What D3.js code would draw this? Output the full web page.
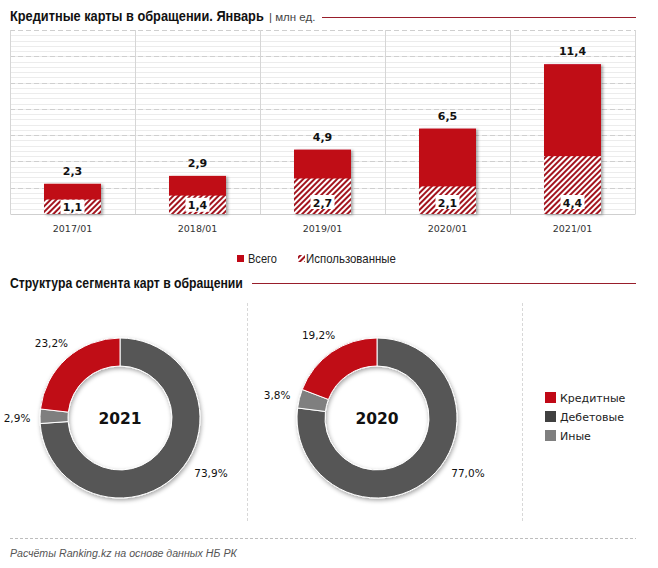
<!DOCTYPE html>
<html><head><meta charset="utf-8">
<script src="https://cdn.jsdelivr.net/npm/d3@7/dist/d3.min.js"></script>
<style>body{margin:0;background:#fff}svg{display:block}</style>
</head><body>
<script>
// ---------- DATA ----------
const categories = ["2017/01","2018/01","2019/01","2020/01","2021/01"];
const totalCards = [2.3, 2.9, 4.9, 6.5, 11.4];
const usedCards  = [1.1, 1.4, 2.7, 2.1, 4.4];
const barLegend = ["Всего","Использованные"];
const yTicksMajor = [0,2,4,6,8,10,12,14];

const segments = ["Кредитные","Дебетовые","Иные"];
const share2021 = [23.2, 73.9, 2.9];
const share2020 = [19.2, 77.0, 3.8];
const donutYears = ["2021","2020"];
const pieOrder = ["Дебетовые","Иные","Кредитные"];

const fmt = v => d3.format(".1f")(v).replace(".", ",");

// ---------- SVG ----------
const W = 658, H = 568;
const svg = d3.select("body").append("svg").attr("width", W).attr("height", H);
const defs = svg.append("defs");
const pat = defs.append("pattern").attr("id","hatch").attr("patternUnits","userSpaceOnUse")
  .attr("width",4).attr("height",4).attr("patternTransform","rotate(45)");
pat.append("rect").attr("width",4).attr("height",4).attr("fill","#fff");
pat.append("rect").attr("width",2).attr("height",4).attr("fill","#a3141e");
const sh = defs.append("filter").attr("id","shadow").attr("x","-20%").attr("y","-20%").attr("width","150%").attr("height","150%");
sh.append("feDropShadow").attr("dx",2).attr("dy",1).attr("stdDeviation",1.5).attr("flood-color","#000").attr("flood-opacity",0.35);
const sh2 = defs.append("filter").attr("id","shadow2").attr("x","-20%").attr("y","-20%").attr("width","140%").attr("height","140%");
sh2.append("feDropShadow").attr("dx",1).attr("dy",2).attr("stdDeviation",2).attr("flood-color","#000").attr("flood-opacity",0.35);

const RED = "#c00816", DARK = "#575757", GREY = "#7f7f7f", LINE = "#981e2b";
const FONT = "'Liberation Sans',Arial,sans-serif";
const FONT2 = "'DejaVu Sans',Verdana,sans-serif";

// horizontally squeeze a text to a target width (condensed look)
function fitText(sel, x0, y0, width) {
  const w = sel.node().getComputedTextLength();
  const s = Math.min(1, width / w);
  sel.attr("x", 0).attr("y", 0).attr("transform", `translate(${x0},${y0}) scale(${s},1)`);
  return sel;
}

// ---------- Title 1 ----------
fitText(svg.append("text").attr("font-family",FONT).attr("fill","#111")
  .attr("font-weight","bold").attr("font-size",15)
  .text("Кредитные карты в обращении. Январь"), 10, 21, 254);
fitText(svg.append("text").attr("font-family",FONT).attr("fill","#444").attr("font-size",11.5)
  .text("| млн ед."), 269, 21, 47);
svg.append("line").attr("x1",322).attr("x2",636).attr("y1",17.5).attr("y2",17.5).attr("stroke",LINE).attr("stroke-width",1);

// ---------- Bar chart ----------
const x = d3.scaleBand().domain(categories).range([10,635]);
const y = d3.scaleLinear().domain([0,14]).range([214,30]);
const g = svg.append("g");
g.selectAll(".minor").data(d3.range(0.4,14,0.4)).join("line")
  .attr("x1",10).attr("x2",635).attr("y1",d=>Math.round(y(d))+0.5).attr("y2",d=>Math.round(y(d))+0.5)
  .attr("stroke","#ececec");
g.selectAll(".major").data(yTicksMajor.slice(1)).join("line")
  .attr("x1",10).attr("x2",635).attr("y1",d=>Math.round(y(d))+0.5).attr("y2",d=>Math.round(y(d))+0.5)
  .attr("stroke","#cfcfcf").attr("stroke-dasharray","5,3");
g.selectAll(".vl").data(categories.concat(["end"])).join("line")
  .attr("x1",(d,i)=>Math.round(x.range()[0]+i*x.bandwidth())+0.5)
  .attr("x2",(d,i)=>Math.round(x.range()[0]+i*x.bandwidth())+0.5)
  .attr("y1",30).attr("y2",214).attr("stroke","#d6d6d6");
const xAxis = g.append("g").attr("transform","translate(0,214)")
  .call(d3.axisBottom(x).tickSize(0).tickPadding(11));
xAxis.select(".domain").attr("stroke","#cfcfcf");
xAxis.selectAll("text").attr("font-family",FONT2).attr("font-size",9.5).attr("fill","#333");

const bw = x.bandwidth()*0.456;
const bars = g.selectAll(".bar").data(categories).join("g");
bars.append("rect").attr("filter","url(#shadow)")
  .attr("x",d=>x(d)+(x.bandwidth()-bw)/2).attr("width",bw)
  .attr("y",(d,i)=>y(totalCards[i])).attr("height",(d,i)=>y(0)-y(totalCards[i]))
  .attr("fill",RED);
bars.append("rect")
  .attr("x",d=>x(d)+(x.bandwidth()-bw)/2).attr("width",bw)
  .attr("y",(d,i)=>y(usedCards[i])).attr("height",(d,i)=>y(0)-y(usedCards[i]))
  .attr("fill","url(#hatch)");
bars.append("text").attr("x",d=>x(d)+x.bandwidth()/2).attr("y",(d,i)=>y(totalCards[i])-9)
  .attr("text-anchor","middle").attr("font-family",FONT2).attr("font-weight","bold").attr("font-size",11).attr("fill","#111")
  .text((d,i)=>fmt(totalCards[i]));
const ly = i => Math.max(y(usedCards[i]/2), y(0)-12);
bars.append("rect").attr("x",d=>x(d)+x.bandwidth()/2-12).attr("width",24)
  .attr("y",(d,i)=>ly(i)-7).attr("height",14).attr("fill","#fff");
bars.append("text").attr("x",d=>x(d)+x.bandwidth()/2).attr("y",(d,i)=>ly(i)+4.5)
  .attr("text-anchor","middle").attr("font-family",FONT2).attr("font-weight","bold").attr("font-size",11).attr("fill","#111")
  .text((d,i)=>fmt(usedCards[i]));

// bar legend
const bl = svg.append("g").attr("font-family",FONT).attr("font-size",12).attr("fill","#222");
const blX = [237, 298];
const blLen = [29, 90];
bl.selectAll("rect").data(barLegend).join("rect")
  .attr("x",(d,i)=>blX[i]).attr("y",255).attr("width",7).attr("height",7)
  .attr("fill",(d,i)=>i===0?RED:"url(#hatch)");
bl.selectAll("text").data(barLegend).join("text").text(d=>d)
  .each(function(d,i){ fitText(d3.select(this), blX[i]+(i===0?11:8), 263, blLen[i]); });

// ---------- Title 2 ----------
fitText(svg.append("text").attr("font-family",FONT).attr("font-weight","bold")
  .attr("font-size",15).attr("fill","#111")
  .text("Структура сегмента карт в обращении"), 10, 288, 233);
svg.append("line").attr("x1",252).attr("x2",636).attr("y1",283.5).attr("y2",283.5).attr("stroke",LINE);

// separators
svg.selectAll(".sep").data([247,522]).join("line")
  .attr("x1",d=>d+0.5).attr("x2",d=>d+0.5).attr("y1",303).attr("y2",522)
  .attr("stroke","#d8d8d8").attr("stroke-dasharray","3,2");

// ---------- Donuts ----------
const color = d3.scaleOrdinal().domain(segments).range([RED, DARK, GREY]);
const legendColor = d3.scaleOrdinal().domain(segments).range([RED, "#404040", GREY]);
const shares = [share2021, share2020];
const centers = [[120,418],[377,418]];
const rIn = 52, rOut = 80;
const arc = d3.arc().innerRadius(rIn).outerRadius(rOut);
const pie = d3.pie().sort(null).value(d=>d.v);

shares.forEach((vals, k) => {
  const data = pieOrder.map(name => ({name, v: vals[segments.indexOf(name)]}));
  const arcs = pie(data);
  const dg = svg.append("g").attr("transform",`translate(${centers[k]})`);
  dg.append("g").attr("filter","url(#shadow2)").selectAll("path").data(arcs).join("path")
    .attr("d",arc).attr("fill",d=>color(d.data.name)).attr("stroke","#fff").attr("stroke-width",1);
  dg.append("text").attr("text-anchor","middle").attr("y",6).attr("font-family",FONT2)
    .attr("font-weight","bold").attr("font-size",15.5).attr("fill","#111").text(donutYears[k]);
  dg.selectAll(".lbl").data(arcs).join("text")
    .attr("transform",d=>{
      const share = (d.endAngle-d.startAngle)/(2*Math.PI);
      const a = share>0.5 ? 2*Math.PI/3 : (d.startAngle+d.endAngle)/2;
      const r = share>0.5 ? 105 : 103;
      return `translate(${r*Math.sin(a)},${-r*Math.cos(a)+6})`;
    })
    .attr("text-anchor","middle").attr("font-family",FONT2).attr("font-size",10.5).attr("fill","#111")
    .text(d=>fmt(d.data.v)+"%");
});

// donut legend
const dl = svg.append("g").attr("font-family",FONT2).attr("font-size",11).attr("fill","#222");
const dlY = d3.scalePoint().domain(segments).range([398,436]);
dl.selectAll("rect").data(segments).join("rect")
  .attr("x",545).attr("y",d=>dlY(d)-6).attr("width",11).attr("height",11).attr("fill",d=>legendColor(d));
dl.selectAll("text").data(segments).join("text")
  .attr("x",560).attr("y",d=>dlY(d)+4).text(d=>d);

// ---------- Footer ----------
svg.append("line").attr("x1",10).attr("x2",636).attr("y1",538.5).attr("y2",538.5)
  .attr("stroke","#bdbdbd").attr("stroke-dasharray","3,2");
fitText(svg.append("text").attr("font-family",FONT).attr("font-style","italic")
  .attr("font-size",11.5).attr("fill","#555")
  .text("Расчёты Ranking.kz на основе данных НБ РК"), 10, 557, 227);
</script>
</body></html>
